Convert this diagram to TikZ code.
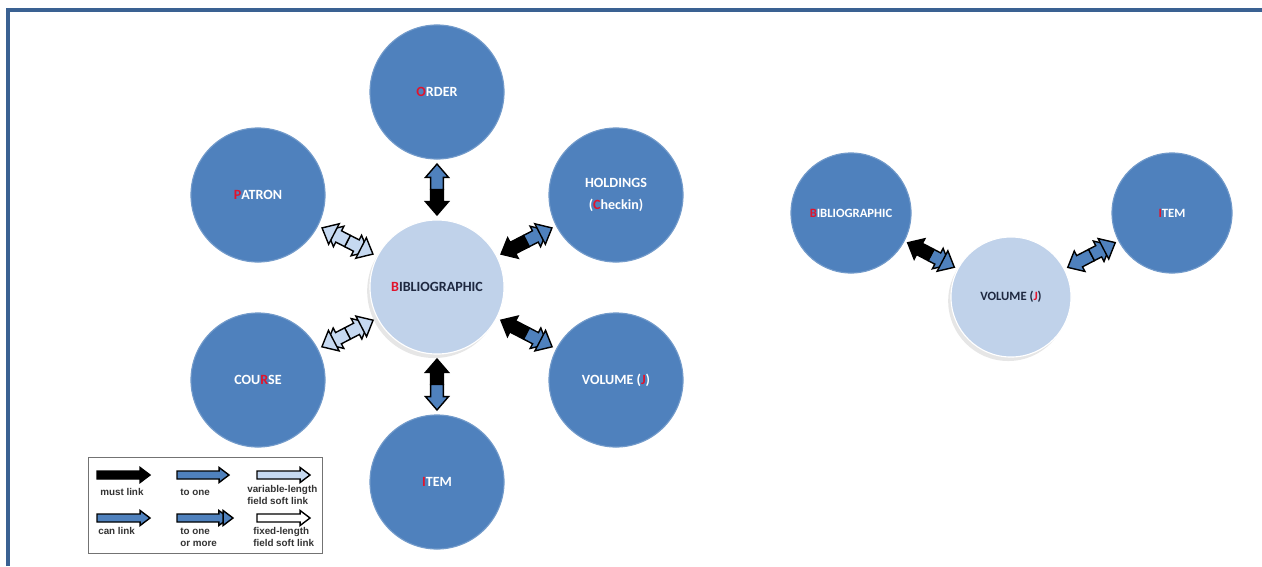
\documentclass[tikz,border=0pt]{standalone}
\usepackage{fontspec}
\setmainfont{Carlito}
\newfontfamily\legendfont{Liberation Sans}
\usetikzlibrary{calc,shadows}
\definecolor{circblue}{RGB}{79,129,189}
\definecolor{circlight}{RGB}{192,210,234}
\definecolor{arrowlight}{RGB}{198,217,241}
\definecolor{letred}{RGB}{225,20,45}
\definecolor{framecol}{RGB}{58,97,146}
\definecolor{darktext}{RGB}{30,40,64}
\tikzset{
  bigcirc/.style={circle, fill=circblue, draw=circblue!80!white, line width=0.8pt, minimum size=3.35cm, inner sep=0pt, text=white, font=\bfseries\fontsize{10}{16}\selectfont, align=center},
  smallcirc/.style={minimum size=3cm, font=\bfseries\fontsize{9}{11}\selectfont},
  lightcirc/.style={fill=circlight, draw=white, text=darktext, drop shadow={shadow xshift=-0.07cm, shadow yshift=-0.1cm, opacity=0.2}},
  fatedge/.style={draw=black, line width=1pt, line join=miter},
  legtext/.style={font=\legendfont\bfseries\fontsize{7}{8.5}\selectfont, text=black!80, align=left, inner sep=0pt, anchor=west}
}
\newcommand{\rl}[1]{\textcolor{letred}{#1}}
\def\aw{4.5pt}\def\ah{8.2pt}\def\al{9.5pt}\def\ag{3.8pt}
% half of a fat arrow, from the middle #1 to the tip #2
\newcommand{\fathalf}[3]{%
  \coordinate (hb) at ($(#2)!\al!(#1)$);
  \filldraw[fatedge, fill=#3] ($(#1)!\aw!90:(#2)$) -- ($(hb)!\aw!-90:(#1)$) -- ($(hb)!\ah!-90:(#1)$) -- (#2)
    -- ($(hb)!\ah!90:(#1)$) -- ($(hb)!\aw!90:(#1)$) -- ($(#1)!\aw!-90:(#2)$) -- cycle;
}
% same with a second head in front
\newcommand{\fatdouble}[3]{%
  \coordinate (tb) at ($(#2)!\ag!(#1)$);
  \fathalf{#1}{tb}{#3}
  \coordinate (hb) at ($(#2)!\al!(#1)$);
  \filldraw[fatedge, fill=#3] ($(hb)!\ah!-90:(#1)$) -- (#2) -- ($(hb)!\ah!90:(#1)$) -- cycle;
}
% end points between two circles
\newcommand{\linkends}[3]{%
  \coordinate (ea) at ($(#1)!#3!(#2)$);
  \coordinate (eb) at ($(#2)!#3!(#1)$);
  \coordinate (em) at ($(ea)!0.5!(eb)$);
}

\begin{document}
\begin{tikzpicture}[x=0.025cm, y=-0.025cm]
  \useasboundingbox (0,0) rectangle (1262,566);
  \draw[framecol, line width=2.2pt] (8,566) -- (8,10) -- (1262,10);

  % left cluster
  \node[bigcirc] (order) at (437,92) {\rl{O}RDER};
  \node[bigcirc] (patron) at (258,195) {\rl{P}ATRON};
  \node[bigcirc] (holdings) at (616,195) {HOLDINGS\\(\rl{C}heckin)};
  \node[bigcirc, lightcirc] (bib) at (437,287) {\rl{B}IBLIOGRAPHIC};
  \node[bigcirc] (course) at (258,380) {COU\rl{R}SE};
  \node[bigcirc] (volume) at (616,380) {VOLUME (\rl{J})};
  \node[bigcirc] (item) at (437,482) {\rl{I}TEM};

  \linkends{bib}{order}{1.8cm}
  \fathalf{em}{ea}{black} \fathalf{em}{eb}{circblue}
  \linkends{bib}{patron}{1.8cm}
  \fatdouble{em}{ea}{arrowlight} \fatdouble{em}{eb}{arrowlight}
  \linkends{bib}{course}{1.8cm}
  \fatdouble{em}{ea}{arrowlight} \fatdouble{em}{eb}{arrowlight}
  \linkends{bib}{holdings}{1.8cm}
  \fathalf{em}{ea}{black} \fatdouble{em}{eb}{circblue}
  \linkends{bib}{volume}{1.8cm}
  \fathalf{em}{ea}{black} \fatdouble{em}{eb}{circblue}
  \linkends{bib}{item}{1.8cm}
  \fathalf{em}{ea}{black} \fathalf{em}{eb}{circblue}

  % right cluster
  \node[bigcirc, smallcirc] (bibB) at (851,213) {\rl{B}IBLIOGRAPHIC};
  \node[bigcirc, smallcirc, lightcirc] (volB) at (1011,297) {VOLUME (\rl{J})};
  \node[bigcirc, smallcirc] (itemB) at (1172,213) {\rl{I}TEM};

  \linkends{volB}{bibB}{1.6cm}
  \fatdouble{em}{ea}{circblue} \fathalf{em}{eb}{black}
  \linkends{volB}{itemB}{1.6cm}
  \fathalf{em}{ea}{circblue} \fatdouble{em}{eb}{circblue}

  % legend
  \begin{scope}
    \def\aw{2.85pt}\def\ah{5.3pt}\def\al{7pt}\def\ag{3pt}
    \node[draw=black!55, line width=0.7pt, fill=white, minimum width=5.83cm, minimum height=2.38cm, inner sep=0pt] (legend) at (205.5,505.5) {};
    \coordinate (mustA) at (97,475);  \coordinate (mustB) at (150,475);
    \coordinate (oneA) at (177,475);  \coordinate (oneB) at (229,475);
    \coordinate (varA) at (257,475);  \coordinate (varB) at (310,475);
    \coordinate (canA) at (97,518);   \coordinate (canB) at (150,518);
    \coordinate (moreA) at (177,518); \coordinate (moreB) at (233,518);
    \coordinate (fixA) at (257,518);  \coordinate (fixB) at (310,518);
    \fathalf{mustA}{mustB}{black}
    \fathalf{oneA}{oneB}{circblue}
    \fathalf{varA}{varB}{arrowlight}
    \fathalf{canA}{canB}{circblue}
    \fatdouble{moreA}{moreB}{circblue}
    \fathalf{fixA}{fixB}{white}
    \node[legtext] (lmust) at (100,492) {must link};
    \node[legtext] (lone) at (180,492) {to one};
    \node[legtext] (lvar) at (247,495) {variable-length\\field soft link};
    \node[legtext] (lcan) at (98,531) {can link};
    \node[legtext] (lmore) at (180,537) {to one\\or more};
    \node[legtext] (lfix) at (253,537) {fixed-length\\field soft link};
  \end{scope}
\end{tikzpicture}
\end{document}
